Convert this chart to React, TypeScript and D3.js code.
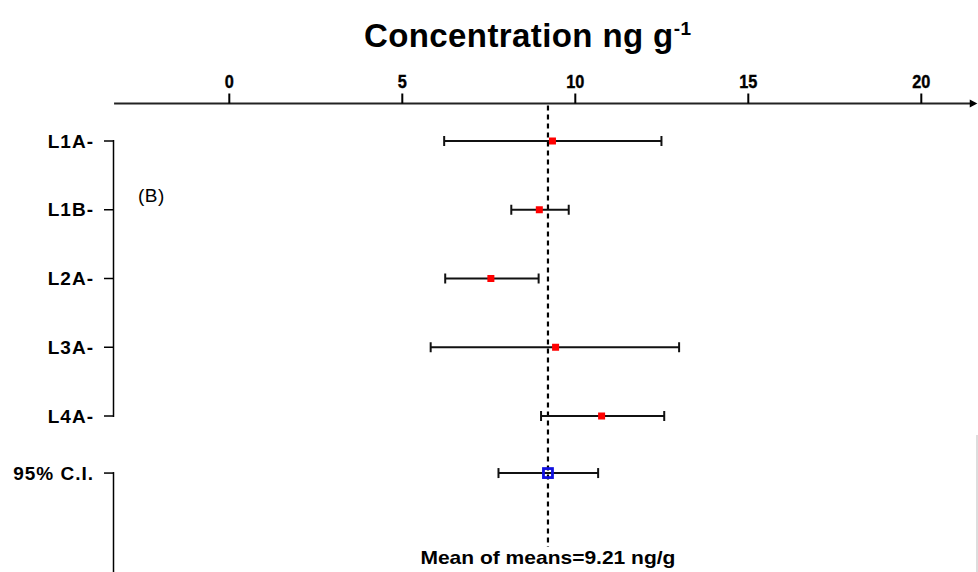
import { useEffect, useRef } from "react";
import { select, scaleLinear } from "d3";

const labs = ["L1A-", "L1B-", "L2A-", "L3A-", "L4A-"];
const means = [9.34, 8.96, 7.56, 9.43, 10.76];
const lows = [6.21, 8.15, 6.24, 5.82, 9.01];
const highs = [12.49, 9.81, 8.94, 13.0, 12.57];
const ciLabel = "95% C.I.";
const ciMean = 9.21;
const ciLow = 7.78;
const ciHigh = 10.66;
const ciRow = 4.83;
const xTicks = [0, 5, 10, 15, 20];

const W = 978;
const H = 572;
const arial = "'Liberation Sans', Arial, sans-serif";

const App = () => {
  const svgRef = useRef<SVGSVGElement>(null);

  useEffect(() => {
    const svg = select(svgRef.current);
    svg.selectAll("*").remove();

    const x = scaleLinear().domain([0, 20]).range([229.3, 921.3]);
    const y = scaleLinear().domain([0, 4]).range([141, 416]);
    const axisY = 103.5;
    const bx = 113.5;

    // title
    const t = svg.append("text")
      .attr("x", 364).attr("y", 47)
      .attr("font-family", arial).attr("font-weight", "bold").attr("font-size", 33)
      .attr("letter-spacing", 0.4)
      .attr("fill", "#000");
    t.append("tspan").text("Concentration ng g");
    t.append("tspan").attr("dy", -12).attr("font-size", 19).text("-1");

    // top axis with arrow
    svg.append("line")
      .attr("x1", x(-3.33)).attr("x2", x(21.5))
      .attr("y1", axisY).attr("y2", axisY)
      .attr("stroke", "#222").attr("stroke-width", 2);
    svg.append("path")
      .attr("d", `M${x(21.4)},${axisY - 4}L${x(21.62)},${axisY}L${x(21.4)},${axisY + 4}Z`)
      .attr("fill", "#000");

    const tk = svg.append("g");
    tk.selectAll("line").data(xTicks).enter().append("line")
      .attr("x1", (d) => x(d)).attr("x2", (d) => x(d))
      .attr("y1", axisY - 10).attr("y2", axisY)
      .attr("stroke", "#000").attr("stroke-width", 2);
    tk.selectAll("text").data(xTicks).enter().append("text")
      .attr("x", (d) => x(d)).attr("y", 88)
      .attr("text-anchor", "middle")
      .attr("font-family", arial).attr("font-weight", "bold").attr("font-size", 18.5)
      .attr("stroke", "#000").attr("stroke-width", 0.4)
      .attr("transform", (d) => `translate(${x(d)},0) scale(0.88,1) translate(${-x(d)},0)`)
      .text((d) => d);

    // left brackets
    svg.append("line")
      .attr("x1", bx).attr("x2", bx)
      .attr("y1", y(0) - 1).attr("y2", y(4) + 1)
      .attr("stroke", "#000").attr("stroke-width", 1.5);
    svg.append("line")
      .attr("x1", bx).attr("x2", bx)
      .attr("y1", y(ciRow) - 1).attr("y2", H)
      .attr("stroke", "#000").attr("stroke-width", 1.5);

    const rows = svg.append("g");
    const allRows = [...labs.map((l, i) => ({ l, r: i })), { l: ciLabel, r: ciRow }];
    rows.selectAll("line").data(allRows).enter().append("line")
      .attr("x1", 104).attr("x2", bx)
      .attr("y1", (d) => y(d.r)).attr("y2", (d) => y(d.r))
      .attr("stroke", "#000").attr("stroke-width", 1.5);
    rows.selectAll("text").data(allRows).enter().append("text")
      .attr("x", 94).attr("y", (d) => y(d.r) + 6.5)
      .attr("text-anchor", "end")
      .attr("font-family", arial).attr("font-weight", "bold").attr("font-size", 19)
      .attr("letter-spacing", 1)
      .text((d) => d.l);

    svg.append("text")
      .attr("x", 138).attr("y", 202)
      .attr("font-family", arial).attr("font-size", 19)
      .attr("letter-spacing", 0.5)
      .text("(B)");

    // mean line
    svg.append("line")
      .attr("x1", x(ciMean)).attr("x2", x(ciMean))
      .attr("y1", axisY + 2).attr("y2", 547)
      .attr("stroke", "#000").attr("stroke-width", 2.2)
      .attr("stroke-dasharray", "5,4");

    // error bars
    const bars = [
      ...labs.map((l, i) => ({ r: i, lo: lows[i], hi: highs[i] })),
      { r: ciRow, lo: ciLow, hi: ciHigh },
    ];
    const eb = svg.append("g").attr("stroke", "#111").attr("stroke-width", 2);
    bars.forEach((b) => {
      const yy = y(b.r);
      eb.append("line").attr("x1", x(b.lo)).attr("x2", x(b.hi)).attr("y1", yy).attr("y2", yy);
      eb.append("line").attr("x1", x(b.lo)).attr("x2", x(b.lo)).attr("y1", yy - 5).attr("y2", yy + 5);
      eb.append("line").attr("x1", x(b.hi)).attr("x2", x(b.hi)).attr("y1", yy - 5).attr("y2", yy + 5);
    });

    svg.append("g").selectAll("rect").data(means).enter().append("rect")
      .attr("x", (d) => x(d) - 3.5).attr("y", (_, i) => y(i) - 3.5)
      .attr("width", 7).attr("height", 7)
      .attr("fill", "#f00");

    svg.append("rect")
      .attr("x", x(ciMean) - 4.5).attr("y", y(ciRow) - 4.5)
      .attr("width", 9).attr("height", 9)
      .attr("fill", "none").attr("stroke", "#1010e0").attr("stroke-width", 2.8);

    svg.append("text")
      .attr("x", x(ciMean)).attr("y", 564)
      .attr("text-anchor", "middle")
      .attr("font-family", arial).attr("font-weight", "bold").attr("font-size", 19)
      .attr("textLength", 255).attr("lengthAdjust", "spacingAndGlyphs")
      .text(`Mean of means=${ciMean} ng/g`);

    // faint frame edge at right
    svg.append("line")
      .attr("x1", 977).attr("x2", 977).attr("y1", 435).attr("y2", H)
      .attr("stroke", "#bbb").attr("stroke-width", 1);
  }, []);

  return (
    <svg
      ref={svgRef}
      width={W}
      height={H}
      viewBox={`0 0 ${W} ${H}`}
      style={{ position: "absolute", left: 0, top: 0, background: "#fff" }}
    />
  );
};

export default App;
